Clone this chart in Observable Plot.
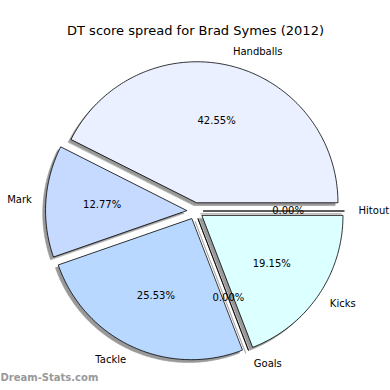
<!DOCTYPE html>
<html><head><meta charset="utf-8">
<script src="https://cdn.jsdelivr.net/npm/d3@7"></script>
<script src="https://cdn.jsdelivr.net/npm/@observablehq/plot@0.6"></script>
<style>body{margin:0;background:#fff}</style>
</head><body><div id="chart"></div>
<script>
const categories = ["Handballs", "Mark", "Tackle", "Goals", "Kicks", "Hitout"];
const values = [20, 6, 12, 0, 9, 0];
const colors = ["#eaf0ff", "#c6d9ff", "#b8d8ff", "#e6f0ff", "#dcffff", "#f5f5ff"];
const title = "DT score spread for Brad Symes (2012)";
const watermark = "Dream-Stats.com";
const explode = 0.06;
const shadowOffset = 0.02;

// layout (pixels)
const W = 390, H = 390, R = 141, CX = 194.5, CY = 210.5;

const total = d3.sum(values);
const wedges = [], shadows = [], pctLabels = [], nameLabels = [];
let start = 0;
categories.forEach((cat, i) => {
  const t1 = start, t2 = start + 360 * values[i] / total;
  start = t2;
  const mid = (t1 + t2) / 2 * Math.PI / 180;
  const ox = explode * Math.cos(mid), oy = explode * Math.sin(mid);
  const n = Math.max(2, Math.ceil(t2 - t1));
  const pts = [{x: ox, y: oy}];
  for (let k = 0; k <= n; k++) {
    const a = (t1 + (t2 - t1) * k / n) * Math.PI / 180;
    pts.push({x: ox + Math.cos(a), y: oy + Math.sin(a)});
  }
  pts.forEach(p => {
    wedges.push({key: cat, x: p.x, y: p.y, color: colors[i]});
    shadows.push({key: cat, x: p.x - shadowOffset, y: p.y - shadowOffset});
  });
  pctLabels.push({x: ox + 0.6 * Math.cos(mid), y: oy + 0.6 * Math.sin(mid),
    text: (100 * values[i] / total).toFixed(2) + "%"});
  const lx = ox + 1.1 * Math.cos(mid), ly = oy + 1.1 * Math.sin(mid);
  nameLabels.push({x: lx, y: ly, text: cat, right: lx > 0});
});

const chart = Plot.plot({
  width: W, height: H, margin: 0,
  x: {domain: [-CX / R, (W - CX) / R], axis: null},
  y: {domain: [-(H - CY) / R, CY / R], axis: null},
  color: {type: "identity"},
  style: {fontFamily: "DejaVu Sans", fontSize: "10px", background: "white", color: "black"},
  marks: [
    Plot.line(shadows, {x: "x", y: "y", z: "key", curve: "linear-closed", fill: "#999", stroke: "#999", strokeWidth: 0.6}),
    Plot.line(wedges, {x: "x", y: "y", z: "key", curve: "linear-closed", fill: "color", stroke: "black", strokeWidth: 0.8, strokeLinejoin: "miter"}),
    Plot.text(pctLabels, {x: "x", y: "y", text: "text", fill: "black", fontSize: 10}),
    Plot.text(nameLabels.filter(d => d.right), {x: "x", y: "y", text: "text", textAnchor: "start", fill: "black", fontSize: 10}),
    Plot.text(nameLabels.filter(d => !d.right), {x: "x", y: "y", text: "text", textAnchor: "end", fill: "black", fontSize: 10}),
    Plot.text([title], {frameAnchor: "top", dy: 25, text: d => d, fontSize: 13, fill: "black"}),
    Plot.text([watermark], {frameAnchor: "bottom-left", dy: -10, dx: 0, textAnchor: "start", text: d => d, fontSize: 10, fontWeight: "bold", fill: "#999"})
  ]
});
document.getElementById("chart").appendChild(chart);
</script>
</body></html>
